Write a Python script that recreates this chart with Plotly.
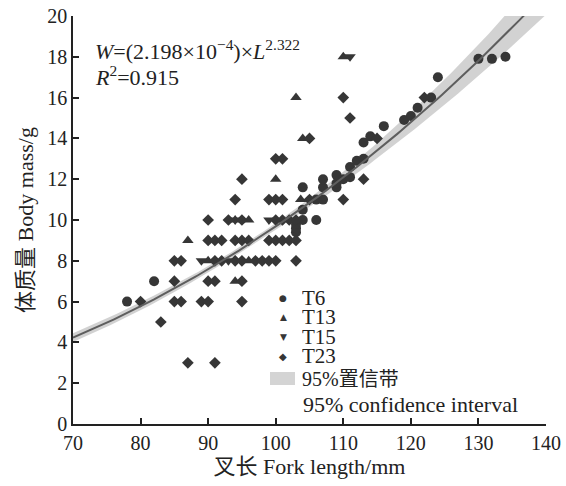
import numpy as np
import plotly.graph_objects as go

# ---- data ----
t6_x = [78, 82, 103, 103, 103, 104, 104, 106, 104, 106, 107, 107, 107, 109, 109, 109, 110, 111, 111,
        112, 113, 113, 114, 116, 119, 120, 121, 123, 124, 130, 132, 134]
t6_y = [6, 7, 9.4, 9.6, 9.8, 10, 10.5, 10, 11.6, 11, 11, 11.6, 12, 11.6, 11.8, 12.2, 12, 12.1, 12.6,
        12.9, 13, 13.8, 14.1, 14.6, 14.9, 15.1, 15.5, 16, 17, 17.9, 17.9, 18]

t13_x = [87, 90, 94, 96, 96, 94, 100, 103, 104, 103.7, 110]
t13_y = [9, 8, 10, 10, 8, 7, 12, 16, 14, 11, 18]

t15_x = [89, 93, 94, 99, 111]
t15_y = [8, 8, 10, 10, 18]

t23_x = [87, 91, 83,
         80, 85, 86, 89, 90, 95,
         85, 90, 91, 95,
         85, 86, 91, 92, 94, 95, 97, 98, 99, 100, 103,
         90, 91, 92, 94, 95, 96, 99, 100, 101, 102, 103,
         90, 93, 95, 100, 101, 102, 103,
         94, 99, 100, 101, 105, 110,
         95, 113, 100, 101, 105, 111, 110, 115, 122]
t23_y = [3, 3, 5,
         6, 6, 6, 6, 6, 6,
         7, 7, 7, 7,
         8, 8, 8, 8, 8, 8, 8, 8, 8, 8, 8,
         9, 9, 9, 9, 9, 9, 9, 9, 9, 9, 9,
         10, 10, 10, 10, 10, 10, 10,
         11, 11, 11, 11, 11, 11,
         12, 12, 13, 13, 14, 15, 16, 14, 16]

# fitted model shown in the chart: W = a * L^b
fit_a = 2.198e-4
fit_b = 2.322
fit_L = np.arange(70, 140.5, 0.5)
fit_W = fit_a * fit_L ** fit_b
# confidence band half-width (relative, in log space) read approximately from the band
ci_base, ci_slope, ci_center = 0.017, 0.14, np.log(98)
rel = np.sqrt(ci_base ** 2 + (ci_slope * (np.log(fit_L) - ci_center)) ** 2)
ci_lo = fit_W * np.exp(-rel)
ci_hi = fit_W * np.exp(rel)

x_ticks = [70, 80, 90, 100, 110, 120, 130, 140]
y_ticks = [0, 2, 4, 6, 8, 10, 12, 14, 16, 18, 20]

MARK = "#363636"
FONT = "Liberation Serif, Noto Sans CJK SC, serif"

fig = go.Figure()
fig.add_trace(go.Scatter(x=fit_L, y=ci_lo, mode="lines", line=dict(width=0), showlegend=False,
                         hoverinfo="skip"))
fig.add_trace(go.Scatter(x=fit_L, y=ci_hi, mode="lines", line=dict(width=0), fill="tonexty",
                         fillcolor="rgba(205,205,205,0.9)", name="95%置信带 95% confidence interval",
                         showlegend=False))
fig.add_trace(go.Scatter(x=t6_x, y=t6_y, mode="markers", name="T6",
                         marker=dict(symbol="circle", size=10, color=MARK), showlegend=False))
fig.add_trace(go.Scatter(x=t13_x, y=t13_y, mode="markers", name="T13",
                         marker=dict(symbol="triangle-up", size=10, color=MARK), showlegend=False))
fig.add_trace(go.Scatter(x=t15_x, y=t15_y, mode="markers", name="T15",
                         marker=dict(symbol="triangle-down", size=10, color=MARK), showlegend=False))
fig.add_trace(go.Scatter(x=t23_x, y=t23_y, mode="markers", name="T23",
                         marker=dict(symbol="diamond", size=9, color=MARK), showlegend=False))
fig.add_trace(go.Scatter(x=fit_L, y=fit_W, mode="lines", line=dict(color="#5e5e5e", width=2),
                         showlegend=False, name="fit"))

# plot geometry helpers (paper coords)
L, R, T, B = 73, 20, 16, 62
W_, H_ = 566, 486
pw, ph = W_ - L - R, H_ - T - B


def px(xp):
    return (xp - L) / pw


def py(yp):
    return (H_ - B - yp) / ph


annotations = [
    dict(x=px(93), y=py(50), xref="paper", yref="paper", xanchor="left", yanchor="middle",
         text="<i>W</i>=(2.198×10<sup>−4</sup>)×<i>L</i><sup>2.322</sup>", showarrow=False,
         font=dict(family=FONT, size=22, color="#222")),
    dict(x=px(93), y=py(76), xref="paper", yref="paper", xanchor="left", yanchor="middle",
         text="<i>R</i><sup>2</sup>=0.915", showarrow=False,
         font=dict(family=FONT, size=22, color="#222")),
]

legend_rows = [("T6", "●", 298, 9), ("T13", "▲", 317, 9), ("T15", "▼", 337, 9), ("T23", "◆", 356, 10)]
for label, glyph, yy, gs in legend_rows:
    annotations.append(dict(x=px(283), y=py(yy), xref="paper", yref="paper", text=glyph,
                            showarrow=False, xanchor="center", yanchor="middle",
                            font=dict(family="DejaVu Sans", size=gs, color=MARK)))
    annotations.append(dict(x=px(300), y=py(yy), xref="paper", yref="paper", text=label,
                            showarrow=False, xanchor="left", yanchor="middle", height=18,
                            font=dict(family=FONT, size=21, color="#222")))
annotations.append(dict(x=px(300), y=py(379), xref="paper", yref="paper", text="95%置信带",
                        showarrow=False, xanchor="left", yanchor="middle", height=20,
                        font=dict(family=FONT, size=20, color="#222")))
annotations.append(dict(x=px(301), y=py(404), xref="paper", yref="paper", text="95% confidence interval",
                        showarrow=False, xanchor="left", yanchor="middle", height=22,
                        font=dict(family=FONT, size=22, color="#222")))

shapes = [dict(type="rect", xref="paper", yref="paper", x0=px(270), x1=px(295), y0=py(385), y1=py(372),
               fillcolor="#d4d4d4", line=dict(width=0))]

fig.update_layout(
    width=W_, height=H_,
    margin=dict(l=L, r=R, t=T, b=B),
    paper_bgcolor="white", plot_bgcolor="white",
    font=dict(family=FONT, size=19, color="#222"),
    showlegend=False,
    annotations=annotations,
    shapes=shapes,
    xaxis=dict(range=[70, 140], tickvals=x_ticks, ticks="inside", ticklen=6, tickwidth=1.5,
               tickcolor="#222", showline=True, linecolor="#222", linewidth=1.5, showgrid=False,
               zeroline=False, tickfont=dict(family=FONT, size=20), automargin=False,
               title=dict(text="叉长 Fork length/mm", font=dict(family=FONT, size=22), standoff=6)),
    yaxis=dict(range=[0, 20], tickvals=y_ticks, ticks="inside", ticklen=6, tickwidth=1.5,
               tickcolor="#222", showline=True, linecolor="#222", linewidth=1.5, showgrid=False,
               zeroline=False, tickfont=dict(family=FONT, size=20), automargin=False,
               title=dict(text="体质量 Body mass/g", font=dict(family=FONT, size=22), standoff=8)),
)

fig.write_html("out.html", config={"displayModeBar": False},
               post_script="document.body.style.margin='0';")
